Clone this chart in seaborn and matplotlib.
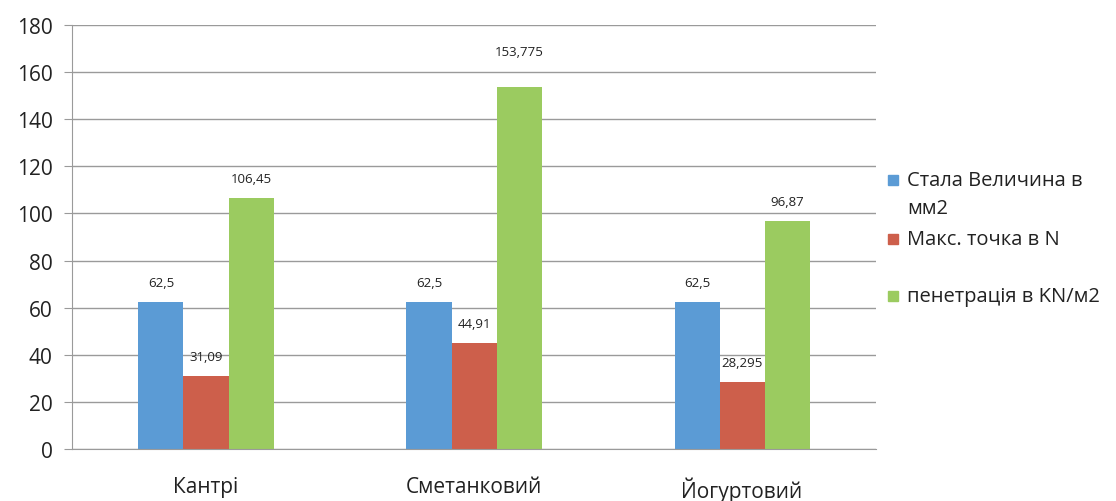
import matplotlib
matplotlib.use("Agg")
import matplotlib.pyplot as plt
from matplotlib.patches import Rectangle
import seaborn as sns
import pandas as pd

categories = ["Кантрі", "Сметанковий", "Йогуртовий"]
series = ["Стала Величина в мм2", "Макс. точка в N", "пенетрація в KN/м2"]
legend_text = ["Стала Величина в\nмм2", "Макс. точка в N", "пенетрація в KN/м2"]
stala = [62.5, 62.5, 62.5]
maks = [31.09, 44.91, 28.295]
penetr = [106.45, 153.775, 96.87]
colors = ["#5b9bd5", "#cd5f4b", "#9bcb60"]

rows = []
for name, vals in zip(series, [stala, maks, penetr]):
    for cat, v in zip(categories, vals):
        rows.append({"cat": cat, "series": name, "value": v})
df = pd.DataFrame(rows)

sns.set_style("white")
plt.rcParams["font.family"] = ["Open Sans", "DejaVu Sans"]

fig = plt.figure(figsize=(11.16, 5.02), dpi=100)
ax = fig.add_axes([0.0645, 0.1036, 0.7205, 0.8446])

sns.barplot(data=df, x="cat", y="value", hue="series", order=categories,
            hue_order=series, palette=colors, width=0.504, saturation=1,
            edgecolor="none", linewidth=0, legend=False, ax=ax, errorbar=None)

ax.set_ylim(0, 180)
ax.set_xlim(-0.5, 2.5)
ax.set_yticks(range(0, 181, 20))
ax.yaxis.grid(True, color="#9a9a9a", linewidth=1)
ax.set_axisbelow(True)
ax.set_xlabel("")
ax.set_ylabel("")
for s in ["top", "right"]:
    ax.spines[s].set_visible(False)
ax.spines["left"].set_color("#9a9a9a")
ax.spines["bottom"].set_color("#9a9a9a")
ax.tick_params(axis="y", left=True, length=6, color="#9a9a9a", labelsize=15,
               labelcolor="#222222", pad=8)
ax.tick_params(axis="x", bottom=False, labelsize=15, labelcolor="#222222", pad=16)

for cont in ax.containers:
    labels = [("%g" % b.get_height()).replace(".", ",") for b in cont]
    anns = ax.bar_label(cont, labels=labels, padding=9.5, fontsize=9.5, color="#222222")
    for a in anns:
        # the tallest label sits higher, above the 160 gridline
        if a.get_text() == "153,775":
            a.xyann = (0, 21)

# legend drawn Excel-style: marker on the first line of each entry
W, H = 1116, 502
leg_y = [181, 240, 297]
for txt, c, y in zip(legend_text, colors, leg_y):
    fig.patches.append(Rectangle((888 / W, 1 - (y + 5) / H), 10 / W, 10 / H,
                                 transform=fig.transFigure, color=c))
    fig.text(907 / W, 1 - y / H, txt.split("\n")[0], fontsize=14.5,
             va="center", ha="left", color="#222222")
    if "\n" in txt:
        fig.text(907 / W, 1 - (y + 28) / H, txt.split("\n")[1], fontsize=14.5,
                 va="center", ha="left", color="#222222")

fig.savefig("out.png", dpi=100)
